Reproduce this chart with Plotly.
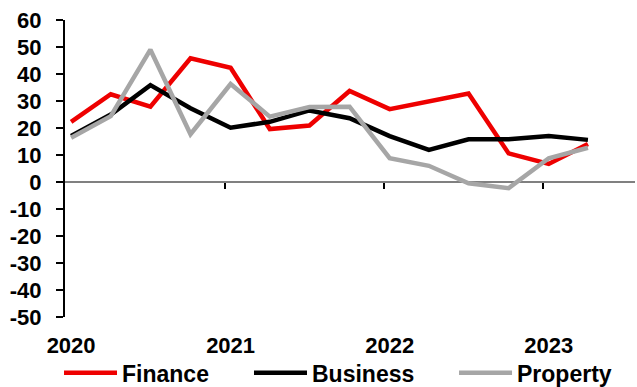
import pandas as pd
import plotly.graph_objects as go

# Quarterly readings, 2020Q1 - 2023Q2
quarters = ["2020Q1", "2020Q2", "2020Q3", "2020Q4",
            "2021Q1", "2021Q2", "2021Q3", "2021Q4",
            "2022Q1", "2022Q2", "2022Q3", "2022Q4",
            "2023Q1", "2023Q2"]
finance = [22.3, 32.5, 27.9, 45.8, 42.3, 19.6, 20.9, 33.7, 27.0, 30.0, 32.8, 10.6, 6.7, 14.1]
business = [17.0, 25.0, 35.9, 27.3, 20.1, 22.3, 26.5, 23.6, 17.0, 11.9, 15.8, 15.8, 17.0, 15.6]
property_ = [16.4, 24.4, 49.0, 17.7, 36.3, 24.2, 27.8, 27.9, 8.8, 6.0, -0.5, -2.3, 8.8, 12.7]

year_labels = ["2020", "2021", "2022", "2023"]
y_ticks = [-50, -40, -30, -20, -10, 0, 10, 20, 30, 40, 50, 60]
y_tick_labels = ["-50", "-40", "-30", "-20", "-10", "0", "10", "20", "30", "40", "50", "60"]

# Each quarter is plotted mid-way through its first month
dates = [pd.Period(q, freq="Q").start_time + pd.Timedelta(days=14) for q in quarters]
label_dates = [pd.Timestamp(f"{y}-01-15") for y in year_labels]
year_starts = [pd.Timestamp(f"{y}-01-01") for y in year_labels[1:]]
x_range = [pd.Timestamp("2020-01-01"), pd.Timestamp("2023-08-01")]

FONT = dict(family="Arial, Liberation Sans, sans-serif", size=22, color="black", weight="bold")
LEGEND_FONT = dict(FONT, size=23)

series = [
    ("Finance", finance, "#EE0000", "legend", -0.0105),
    ("Business", business, "#000000", "legend2", 0.3228),
    ("Property", property_, "#A6A6A6", "legend3", 0.6825),
]

fig = go.Figure()

# empty trace so the zero-crossing date axis gets its own subplot
fig.add_trace(go.Scatter(x=[dates[0]], y=[None], xaxis="x2", yaxis="y",
                         showlegend=False, hoverinfo="skip", mode="lines"))

for name, vals, color, leg, _ in series:
    fig.add_trace(go.Scatter(
        x=dates, y=vals, name=name, mode="lines", legend=leg,
        line=dict(color=color, width=4.5),
    ))

y_min, y_max = -50, 60

legend_common = dict(
    orientation="h", xanchor="left", yref="container", y=0.037, yanchor="middle",
    font=LEGEND_FONT, itemwidth=53, bgcolor="rgba(0,0,0,0)",
)
legends = {}
for name, vals, color, leg, lx in series:
    legends[leg] = dict(legend_common, x=lx)

fig.update_layout(
    width=637, height=387,
    margin=dict(l=65, r=2, t=20, b=70, autoexpand=False),
    paper_bgcolor="white", plot_bgcolor="white",
    font=FONT,
    showlegend=True,
    **legends,
    xaxis=dict(
        type="date", range=x_range,
        tickmode="array", tickvals=label_dates, ticktext=year_labels,
        ticks="", showline=False, showgrid=False, zeroline=False,
        ticklabelstandoff=13, tickfont=FONT, automargin=False,
    ),
    xaxis2=dict(
        type="date", range=x_range, overlaying="x", anchor="free",
        position=(0 - y_min) / (y_max - y_min),
        tickmode="array", tickvals=year_starts,
        ticks="outside", ticklen=6, tickwidth=1.5, tickcolor="black",
        showticklabels=False, showline=True, linecolor="#808080", linewidth=1.5,
        showgrid=False, zeroline=False, layer="below traces",
    ),
    yaxis=dict(
        range=[y_min, y_max],
        tickmode="array", tickvals=y_ticks, ticktext=y_tick_labels,
        ticks="outside", ticklen=7, tickwidth=1.5, tickcolor="black",
        showline=True, linecolor="black", linewidth=2,
        showgrid=False, zeroline=False, automargin=False,
        ticklabelstandoff=10, tickfont=FONT,
    ),
)

fig.write_html("out.html")
